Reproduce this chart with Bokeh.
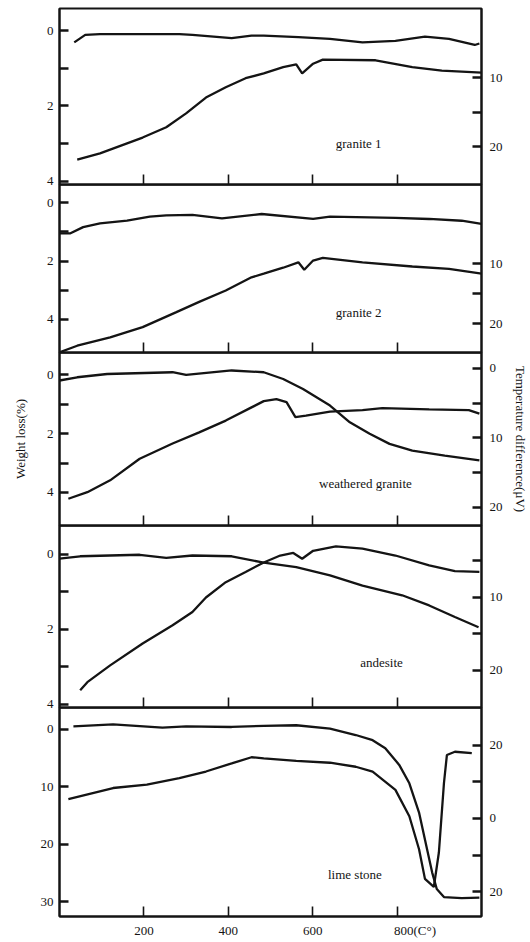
from bokeh.plotting import figure
from bokeh.models import Range1d, LinearAxis, FixedTicker, Label
from bokeh.layouts import column
from bokeh.embed import file_html
from bokeh.resources import INLINE

# ---------------- data (temperature in °C) ----------------
x_ticks = [200, 400, 600, 800]
x_tick_labels = {200: "200", 400: "400", 600: "600", 800: "\u00a0" * 11 + "800(C°)"}

sample_names = ["granite 1", "granite 2", "weathered granite", "andesite", "lime stone"]

# granite 1
g1_tg_t = [35, 61, 96, 190, 284, 315, 408, 455, 484, 566, 641, 718, 796, 866, 923, 984, 995]
g1_tg = [0.31, 0.11, 0.09, 0.09, 0.09, 0.11, 0.20, 0.13, 0.13, 0.17, 0.22, 0.31, 0.27, 0.16, 0.22, 0.38, 0.34]
g1_dta_t = [42, 96, 197, 253, 300, 347, 394, 441, 484, 530, 561, 575, 601, 624, 749, 836, 906, 1000]
g1_dta = [21.9, 21.0, 18.7, 17.2, 15.2, 12.9, 11.4, 10.1, 9.4, 8.5, 8.1, 9.4, 8.0, 7.4, 7.5, 8.5, 9.0, 9.3]

# granite 2
g2_tg_t = [0, 26, 56, 96, 160, 214, 253, 315, 385, 479, 601, 641, 796, 876, 953, 1000]
g2_tg = [1.05, 1.05, 0.84, 0.71, 0.62, 0.48, 0.44, 0.42, 0.54, 0.39, 0.56, 0.48, 0.52, 0.56, 0.62, 0.73]
g2_dta_t = [0, 42, 120, 197, 277, 331, 394, 455, 484, 530, 566, 580, 601, 624, 718, 836, 923, 1000]
g2_dta = [24.8, 23.7, 22.3, 20.6, 18.1, 16.4, 14.5, 12.3, 11.7, 10.7, 9.8, 11.05, 9.5, 9.05, 9.8, 10.5, 10.9, 11.7]

# weathered granite
g3_tg_t = [0, 42, 113, 268, 300, 408, 484, 530, 577, 641, 688, 735, 782, 836, 913, 995]
g3_tg = [0.2, 0.09, -0.02, -0.08, 0.01, -0.14, -0.08, 0.15, 0.49, 1.05, 1.62, 2.01, 2.35, 2.58, 2.75, 2.91]
g3_dta_t = [21, 66, 120, 190, 268, 331, 394, 455, 484, 514, 538, 559, 584, 641, 718, 765, 876, 970, 995]
g3_dta = [18.75, 17.8, 16.1, 13.0, 10.8, 9.2, 7.5, 5.6, 4.7, 4.4, 4.85, 7.0, 6.8, 6.2, 6.0, 5.7, 5.9, 6.0, 6.5]

# andesite
g4_tg_t = [0, 49, 190, 253, 315, 408, 484, 561, 641, 718, 812, 876, 937, 993]
g4_tg = [0.11, 0.05, 0.01, 0.09, 0.03, 0.05, 0.22, 0.34, 0.56, 0.83, 1.09, 1.36, 1.67, 1.94]
g4_dta_t = [49, 66, 120, 197, 268, 315, 347, 394, 441, 484, 523, 554, 575, 601, 655, 718, 796, 876, 937, 995]
g4_dta = [22.7, 21.6, 19.3, 16.3, 13.8, 12.0, 10.0, 7.9, 6.5, 5.2, 4.25, 3.9, 4.7, 3.6, 3.0, 3.3, 4.25, 5.6, 6.4, 6.5]

# lime stone
g5_tg_t = [33, 127, 244, 300, 408, 484, 561, 641, 702, 742, 772, 805, 829, 852, 871, 883, 894, 911, 953, 995]
g5_tg = [-0.5, -0.86, -0.3, -0.5, -0.4, -0.6, -0.7, -0.1, 1.0, 1.9, 3.3, 6.2, 9.4, 14.5, 20.9, 24.9, 27.8, 29.2, 29.4, 29.3]
g5_dta_t = [21, 127, 207, 284, 347, 408, 455, 484, 561, 641, 702, 742, 796, 829, 852, 866, 887, 899, 911, 918, 937, 977]
g5_dta = [5.3, 8.3, 9.2, 11.0, 12.8, 15.0, 16.7, 16.4, 15.7, 15.2, 14.1, 12.8, 7.8, 0.6, -8.4, -16.5, -18.7, -9.3, 9.6, 17.3, 18.2, 17.8]

# axis ticks / labels per panel
left_ticks = [[0, 1, 2, 3, 4], [0, 1, 2, 3, 4], [0, 1, 2, 3, 4], [0, 1, 2, 3, 4], [0, 10, 20, 30]]
left_labels = [{1: "", 3: ""}, {1: "", 3: ""}, {1: "", 3: ""}, {1: "", 3: ""}, {}]
right_ticks = [[10, 15, 20], [10, 15, 20], [0, 5, 10, 15, 20], [5, 10, 15, 20], [-20, -10, 0, 10, 20]]
right_labels = [{15: ""}, {15: ""}, {5: "", 15: ""}, {5: "", 15: ""}, {-20: "20", -10: "", 10: ""}]

# ---------------- layout / style ----------------
FONT = "Liberation Serif"
INK = "#141414"
frame_heights = [176, 168, 173, 182, 211]
left_ranges = [(4.09, -0.59), (5.13, -0.62), (5.12, -0.75), (4.08, -0.77), (32.59, -3.79)]
right_ranges = [(25.5, 0.0), (24.83, -3.17), (22.6, -2.3), (25.07, 0.14), (-26.76, 30.27)]
label_pos = [(709, 3.01), (709, 3.76), (725, 3.69), (763, 2.88), (700, 25.2)]
series = [(g1_tg_t, g1_tg, g1_dta_t, g1_dta), (g2_tg_t, g2_tg, g2_dta_t, g2_dta),
          (g3_tg_t, g3_tg, g3_dta_t, g3_dta), (g4_tg_t, g4_tg, g4_dta_t, g4_dta),
          (g5_tg_t, g5_tg, g5_dta_t, g5_dta)]

TOP = 8        # space above the first panel
OVER = 24      # bottom border of panels 1-4, overlapped by the next panel
BOTTOM = 22    # bottom border of the last panel (tick labels)


def style_y(ax, ticks, overrides, standoff):
    ax.ticker = FixedTicker(ticks=ticks, minor_ticks=[])
    ax.major_label_overrides = overrides
    ax.major_tick_in = 9
    ax.major_tick_out = 0
    ax.major_tick_line_width = 2.5
    ax.major_tick_line_color = INK
    ax.minor_tick_in = 0
    ax.minor_tick_out = 0
    ax.axis_line_width = 2
    ax.axis_line_color = INK
    ax.major_label_text_font = FONT
    ax.major_label_text_font_size = "13px"
    ax.major_label_text_color = INK
    ax.major_label_standoff = standoff


panels = []
for i in range(5):
    first = i == 0
    last = i == 4
    fh = frame_heights[i]
    top = TOP if first else 0
    bot = BOTTOM if last else OVER
    p = figure(width=530, height=fh + top + bot,
               x_range=Range1d(0, 1000), y_range=Range1d(*left_ranges[i]),
               output_backend="svg", toolbar_location=None, title=None,
               min_border_left=59, min_border_right=45, min_border_top=top,
               min_border_bottom=bot,
               margin=(0, 0, 0, 0) if first else (-OVER, 0, 0, 0))
    p.extra_y_ranges = {"r": Range1d(*right_ranges[i])}
    p.xgrid.visible = False
    p.ygrid.visible = False
    p.outline_line_color = INK
    p.outline_line_width = 2
    p.background_fill_alpha = 0
    p.border_fill_alpha = 0

    # x axis
    xa = p.xaxis[0]
    xa.ticker = FixedTicker(ticks=x_ticks, minor_ticks=[])
    xa.major_tick_in = 10
    xa.major_tick_out = 0
    xa.major_tick_line_width = 1.6
    xa.major_tick_line_color = INK
    xa.minor_tick_in = 0
    xa.minor_tick_out = 0
    xa.axis_line_width = 2
    xa.axis_line_color = INK
    if last:
        xa.major_label_overrides = x_tick_labels
        xa.major_label_text_font = FONT
        xa.major_label_text_font_size = "13px"
        xa.major_label_text_color = INK
        xa.major_label_standoff = 6
    else:
        xa.major_label_text_color = None
        xa.major_label_standoff = 0

    # left axis
    style_y(p.yaxis[0], left_ticks[i], left_labels[i], 6)
    # right axis
    ra = LinearAxis(y_range_name="r")
    style_y(ra, right_ticks[i], right_labels[i], 8)
    p.add_layout(ra, "right")

    if i == 2:
        la = p.yaxis[0]
        la.axis_label = "Weight loss(%)"
        la.axis_label_text_font = FONT
        la.axis_label_text_font_style = "normal"
        la.axis_label_text_font_size = "13px"
        la.axis_label_text_color = INK
        la.axis_label_standoff = 16
        ra.axis_label = "Temperature difference(μV)"
        ra.axis_label_text_font = FONT
        ra.axis_label_text_font_style = "normal"
        ra.axis_label_text_font_size = "13px"
        ra.axis_label_text_color = INK
        ra.axis_label_standoff = 7

    tg_t, tg, dta_t, dta = series[i]
    p.line(tg_t, tg, line_color=INK, line_width=2.3)
    p.line(dta_t, dta, line_color=INK, line_width=2.3, y_range_name="r")

    lx, ly = label_pos[i]
    p.add_layout(Label(x=lx, y=ly, text=sample_names[i], text_align="center",
                       text_baseline="middle", text_font=FONT,
                       text_font_size="13px", text_color=INK))
    panels.append(p)

layout = column(*panels, spacing=0)
open("out.html", "w").write(file_html(layout, INLINE))
